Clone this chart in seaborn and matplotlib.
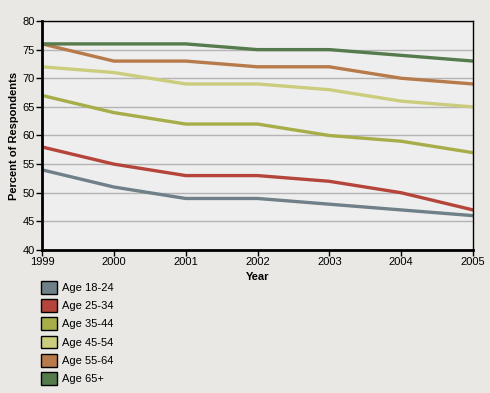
import pandas as pd
import matplotlib
matplotlib.use("Agg")
import matplotlib.pyplot as plt
import seaborn as sns
from matplotlib.patches import Patch

# данные с картинки
years = [1999, 2000, 2001, 2002, 2003, 2004, 2005]
groups = ["Age 18-24", "Age 25-34", "Age 35-44", "Age 45-54", "Age 55-64", "Age 65+"]
age_18_24 = [54, 51, 49, 49, 48, 47, 46]
age_25_34 = [58, 55, 53, 53, 52, 50, 47]
age_35_44 = [67, 64, 62, 62, 60, 59, 57]
age_45_54 = [72, 71, 69, 69, 68, 66, 65]
age_55_64 = [76, 73, 73, 72, 72, 70, 69]
age_65_plus = [76, 76, 76, 75, 75, 74, 73]
colors = ["#6F8088", "#B5443A", "#A7AD48", "#CCCC7F", "#B77A4A", "#557A4B"]

series = [age_18_24, age_25_34, age_35_44, age_45_54, age_55_64, age_65_plus]
rows = []
for g, vals in zip(groups, series):
    for y, v in zip(years, vals):
        rows.append({"Year": y, "Percent": v, "Group": g})
df = pd.DataFrame(rows)

sns.set_style("white")
plt.rcParams["font.family"] = ["Liberation Sans", "DejaVu Sans"]
plt.rcParams["text.color"] = "black"
plt.rcParams["axes.labelcolor"] = "black"

fig = plt.figure(figsize=(4.9, 3.93), dpi=100, facecolor="#E9E8E4")
ax = fig.add_axes([42 / 490, 1 - 250 / 393, (473 - 42) / 490, (250 - 21) / 393])
ax.set_facecolor("#EEEEEE")

sns.lineplot(data=df, x="Year", y="Percent", hue="Group", palette=colors,
             linewidth=2.4, ax=ax, legend=False)

ax.set_xlim(1999, 2005)
ax.set_ylim(40, 80)
ax.set_xticks(years)
ax.set_yticks(range(40, 81, 5))
ax.yaxis.grid(True, color="#B4B4B4", linewidth=1)
ax.xaxis.grid(False)
ax.set_axisbelow(True)

for s in ["left", "bottom"]:
    ax.spines[s].set_linewidth(2)
    ax.spines[s].set_color("black")
for s in ["top", "right"]:
    ax.spines[s].set_linewidth(1)
    ax.spines[s].set_color("black")

ax.tick_params(axis="both", direction="out", length=4, width=1, labelsize=8,
               colors="black", pad=1, left=True, bottom=True)
ax.set_xlabel("Year", fontsize=8, fontweight="bold", labelpad=4)
ax.set_ylabel("Percent of Respondents", fontsize=8, fontweight="bold", labelpad=3)

handles = [Patch(facecolor=c, edgecolor="black", linewidth=1) for c in colors]
fig.legend(handles, groups, loc="upper left", bbox_to_anchor=(41 / 490, 1 - 281 / 393),
           frameon=False, fontsize=8, handlelength=1.4, handleheight=1.4,
           handletextpad=0.45, labelspacing=0.48, borderpad=0, borderaxespad=0)

fig.savefig("out.png", dpi=100, facecolor=fig.get_facecolor())
